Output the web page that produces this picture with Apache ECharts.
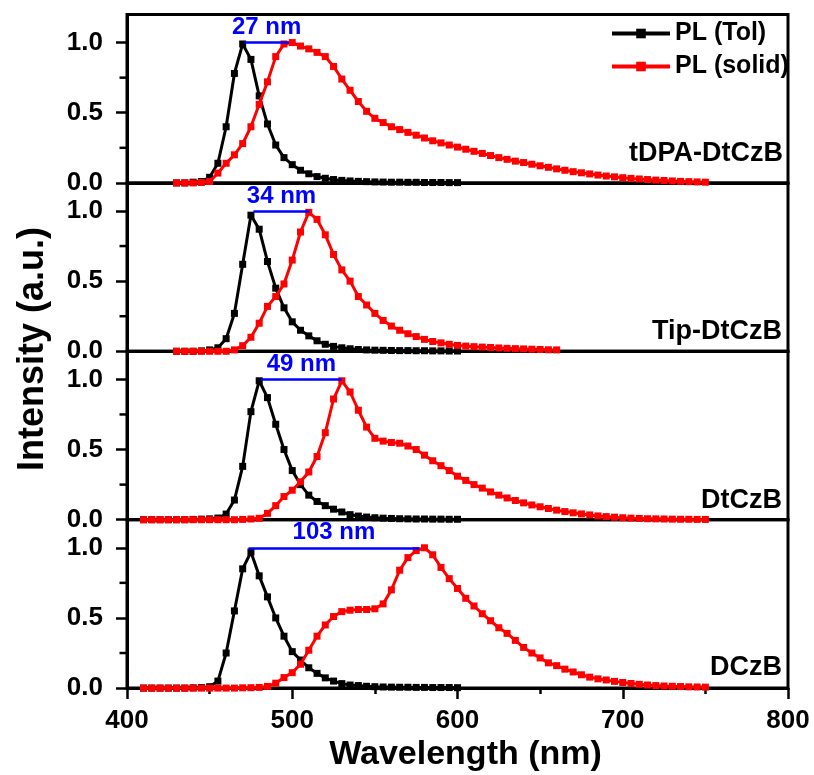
<!DOCTYPE html>
<html><head><meta charset="utf-8">
<script src="https://cdn.jsdelivr.net/npm/echarts@6/dist/echarts.min.js"></script>
<style>html,body{margin:0;padding:0;background:#fff}#c{width:814px;height:775px}</style>
</head><body><div id="c"></div>
<script>
const FONT = '"Liberation Sans", Arial, Helvetica, sans-serif';
const sampleNames = ['tDPA-DtCzB', 'Tip-DtCzB', 'DtCzB', 'DCzB'];
const seriesNames = ['PL (Tol)', 'PL (solid)'];
const xTicks = [400, 500, 600, 700, 800];
const yTicks = [0, 0.5, 1.0];
const yMinorTicks = [0.25, 0.75];
const stepNm = 5;
const tolStart = [430, 430, 410, 410];
const solidStart = [430, 430, 410, 410];

const tol_tDPA = [0,0,0.005,0.01,0.04,0.14,0.40,0.78,0.99,0.88,
  0.62,0.42,0.27,0.18,0.13,0.09,0.065,0.045,0.033,0.024,
  0.018,0.014,0.011,0.009,0.007,0.006,0.005,0.005,0.004,0.004,
  0.003,0.003,0.003,0.002,0.002];
const solid_tDPA = [0,0,0,0.003,0.01,0.07,0.14,0.2,0.28,0.4,
  0.56,0.72,0.9,0.99,1.0,0.975,0.955,0.93,0.9,0.83,
  0.74,0.66,0.58,0.51,0.46,0.43,0.40,0.38,0.36,0.34,
  0.32,0.30,0.285,0.27,0.255,0.24,0.225,0.21,0.195,0.18,
  0.168,0.155,0.145,0.133,0.122,0.111,0.1,0.09,0.08,0.072,
  0.064,0.056,0.049,0.043,0.037,0.032,0.028,0.024,0.02,0.017,
  0.014,0.011,0.009,0.007,0.005];
const tol_Tip = [0,0,0,0.003,0.01,0.025,0.09,0.27,0.62,0.97,
  0.87,0.64,0.45,0.31,0.21,0.15,0.11,0.075,0.05,0.035,
  0.025,0.018,0.013,0.01,0.008,0.007,0.006,0.005,0.005,0.004,
  0.004,0.003,0.003,0.002,0.002];
const solid_Tip = [0,0,0,0,0,0,0,0.01,0.04,0.1,
  0.2,0.32,0.39,0.48,0.65,0.85,0.99,0.94,0.83,0.69,
  0.58,0.5,0.39,0.33,0.27,0.22,0.18,0.15,0.125,0.105,
  0.085,0.07,0.06,0.05,0.042,0.037,0.033,0.03,0.027,0.024,
  0.021,0.019,0.017,0.015,0.013,0.011,0.01];
const tol_Dt = [0,0,0,0,0,0,0.002,0.004,0.006,0.012,
  0.04,0.14,0.38,0.77,0.99,0.87,0.68,0.5,0.35,0.25,
  0.175,0.13,0.1,0.075,0.055,0.036,0.026,0.019,0.014,0.011,
  0.009,0.007,0.006,0.005,0.005,0.004,0.004,0.003,0.003];
const solid_Dt = [0,0,0,0,0,0,0,0,0,0,
  0,0,0.002,0.005,0.01,0.045,0.1,0.165,0.21,0.27,
  0.34,0.45,0.62,0.86,0.99,0.91,0.78,0.66,0.58,0.56,
  0.55,0.545,0.525,0.5,0.46,0.42,0.385,0.35,0.31,0.28,
  0.25,0.225,0.198,0.175,0.155,0.137,0.12,0.105,0.092,0.08,
  0.068,0.058,0.049,0.041,0.034,0.027,0.022,0.018,0.014,0.011,
  0.009,0.007,0.006,0.005,0.004,0.003,0.003,0.002,0.002];
const tol_DCzB = [0,0,0,0,0,0,0.002,0.004,0.01,0.05,
  0.25,0.55,0.85,0.97,0.8,0.65,0.5,0.37,0.26,0.2,
  0.145,0.105,0.073,0.05,0.032,0.022,0.018,0.013,0.01,0.008,
  0.007,0.006,0.006,0.005,0.005,0.004,0.004,0.004,0.003];
const solid_DCzB = [0,0,0,0,0,0,0,0,0,0,
  0,0,0.002,0.003,0.005,0.012,0.035,0.075,0.11,0.17,
  0.27,0.37,0.45,0.51,0.545,0.555,0.56,0.56,0.565,0.6,
  0.7,0.84,0.93,0.98,1.0,0.95,0.86,0.78,0.71,0.64,
  0.585,0.53,0.48,0.43,0.39,0.34,0.29,0.25,0.215,0.18,
  0.16,0.135,0.115,0.095,0.078,0.066,0.058,0.048,0.04,0.033,
  0.027,0.022,0.018,0.015,0.013,0.011,0.009,0.008,0.007];

const tolPeak = [471, 476.5, 481, 473.5];
const solidPeak = [498, 510.5, 530, 577];
const shiftLabels = ['27 nm', '34 nm', '49 nm', '103 nm'];

const tolValues = [tol_tDPA, tol_Tip, tol_Dt, tol_DCzB];
const solidValues = [solid_tDPA, solid_Tip, solid_Dt, solid_DCzB];

function pairs(start, vals) { return vals.map((v, i) => [start + i * stepNm, v]); }

const GTOP = 14.5, GH = 168.4, GLEFT = 127, GRIGHT = 26;
const labelBaselines = [163, 341, 510, 677];
const labelRight = [783, 782, 782, 782];

const grids = [], xAxes = [], yAxes = [], series = [], graphics = [];
for (let i = 0; i < 4; i++) {
  const last = i === 3;
  grids.push({ left: GLEFT, right: GRIGHT, top: GTOP + i * GH, height: GH, show: true,
    borderColor: '#000', borderWidth: 3, backgroundColor: 'transparent' });
  xAxes.push({ type: 'value', gridIndex: i, min: 400, max: 800, interval: 100,
    axisLine: { show: true, onZero: false, lineStyle: { color: '#000', width: 3 } },
    axisTick: { show: last, length: 11, lineStyle: { color: '#000', width: 2.5 } },
    minorTick: { show: last, splitNumber: 2, length: 6, lineStyle: { color: '#000', width: 2.5 } },
    axisLabel: { show: last, margin: 20, color: '#000', fontSize: 26, fontWeight: 'bold', fontFamily: FONT,
      customValues: xTicks },
    splitLine: { show: false },
    name: last ? 'Wavelength (nm)' : '', nameLocation: 'middle', nameGap: 50,
    nameTextStyle: { color: '#000', fontSize: 34, fontWeight: 'bold', fontFamily: FONT, padding: [0, 0, 0, 16] } });
  yAxes.push({ type: 'value', gridIndex: i, min: 0, max: 1.2, interval: 0.5, position: 'left',
    axisLine: { show: true, lineStyle: { color: '#000', width: 3 } },
    axisTick: { show: true, length: 11, customValues: yTicks, lineStyle: { color: '#000', width: 2.5 } },
    axisLabel: { show: true, margin: 24, color: '#000', fontSize: 26, fontWeight: 'bold', fontFamily: FONT,
      customValues: yTicks, formatter: v => v.toFixed(1) },
    splitLine: { show: false } });
  series.push({ name: seriesNames[0], type: 'line', xAxisIndex: i, yAxisIndex: i,
    data: pairs(tolStart[i], tolValues[i]), symbol: 'rect', symbolSize: 7, showSymbol: true,
    color: '#000', lineStyle: { color: '#000', width: 3 }, itemStyle: { color: '#000' },
    clip: false, animation: false, emphasis: { disabled: true }, z: 3 });
  series.push({ name: seriesNames[1], type: 'line', xAxisIndex: i, yAxisIndex: i,
    data: pairs(solidStart[i], solidValues[i]), symbol: 'rect', symbolSize: 7, showSymbol: true,
    color: '#ff0000', lineStyle: { color: '#ff0000', width: 3 }, itemStyle: { color: '#ff0000' },
    clip: false, animation: false, emphasis: { disabled: true }, z: 4,
    markLine: { silent: true, animation: false, symbol: ['none', 'none'],
      lineStyle: { color: '#0000ff', width: 2.5, type: 'solid' },
      label: { show: true, position: 'middle', formatter: shiftLabels[i], color: '#0000ff',
        fontSize: 24, fontWeight: 'bold', fontFamily: FONT, distance: 3 },
      emphasis: { disabled: true },
      data: [[{ coord: [tolPeak[i], 1] }, { coord: [solidPeak[i], 1] }]] } });
  // minor y ticks (0.25, 0.75), placed through the axis scale
  series.push({ name: 'minorTicks' + i, type: 'custom', xAxisIndex: i, yAxisIndex: i,
    data: yMinorTicks.map(v => [400, v]), clip: false, silent: true, animation: false, z: 1,
    renderItem: (params, api) => {
      const p = api.coord([api.value(0), api.value(1)]);
      return { type: 'line', shape: { x1: p[0] - 7.5, y1: p[1], x2: p[0], y2: p[1] },
        style: { stroke: '#000', lineWidth: 2.5 } };
    } });
  graphics.push({ type: 'text', x: labelRight[i], y: labelBaselines[i] - 9.4,
    style: { text: sampleNames[i], fill: '#000', font: 'bold 27px ' + FONT, align: 'right', verticalAlign: 'middle' } });
}
graphics.push({ type: 'text', x: 33, y: 349, rotation: Math.PI / 2,
  style: { text: 'Intensity (a.u.)', fill: '#000', font: 'bold 36px ' + FONT, align: 'center', verticalAlign: 'middle' } });

const chart = echarts.init(document.getElementById('c'), null, { renderer: 'canvas' });
chart.setOption({
  animation: false,
  backgroundColor: '#fff',
  grid: grids, xAxis: xAxes, yAxis: yAxes, series: series, graphic: graphics,
  legend: { data: seriesNames, orient: 'vertical', left: 605, top: 16, itemWidth: 58, itemHeight: 12,
    itemGap: 8, lineStyle: { width: 4 },
    textStyle: { color: '#000', fontSize: 25, fontWeight: 'bold', fontFamily: FONT } }
});
</script></body></html>
